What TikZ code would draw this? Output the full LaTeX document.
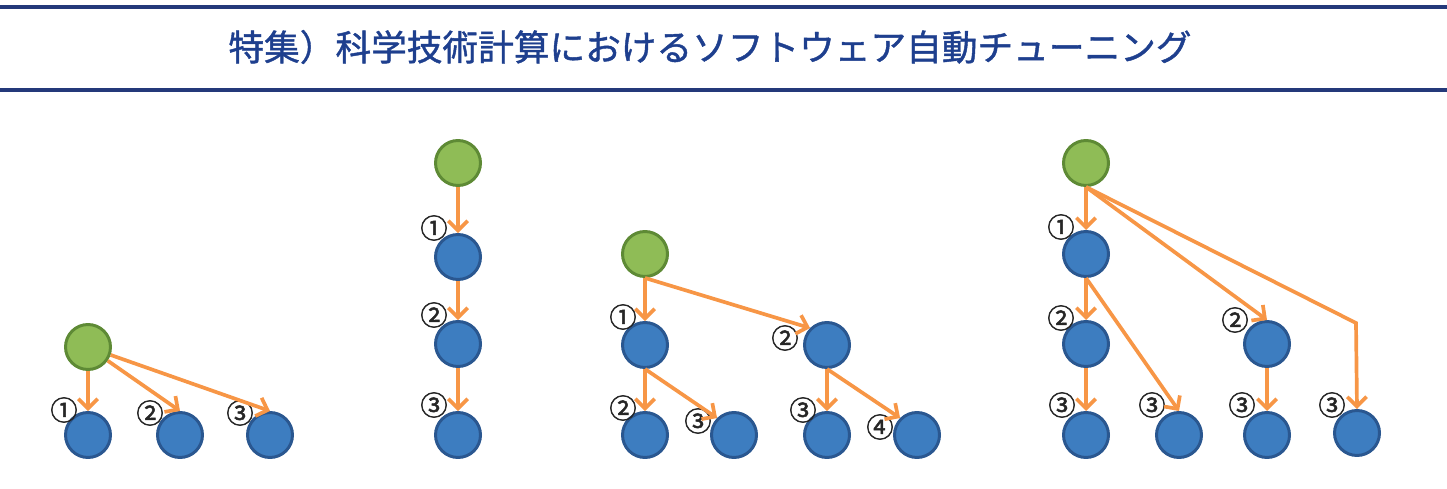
\documentclass[tikz,border=0pt]{standalone}
\usepackage{fontspec}
\newfontfamily\numfont[FakeBold=1.8]{Noto Sans CJK JP}
\newfontfamily\jptitle[FakeBold=1.2]{Noto Sans CJK JP}
\usepackage{tikz}
\usetikzlibrary{arrows.meta,positioning}

\definecolor{navy}{HTML}{24397A}
\definecolor{titleblue}{HTML}{1E3F8E}
\definecolor{nodeblue}{HTML}{3D7DC0}
\definecolor{nodeblueline}{HTML}{2A5790}
\definecolor{nodegreen}{HTML}{8FBC56}
\definecolor{nodegreenline}{HTML}{5E8A35}
\definecolor{arrorange}{HTML}{F79646}

\begin{document}
\begin{tikzpicture}[
	x=0.02cm, y=-0.02cm,
	root/.style={circle, draw=nodegreenline, fill=nodegreen, line width=1.7pt, minimum size=0.9cm, inner sep=0pt},
	leaf/.style={circle, draw=nodeblueline, fill=nodeblue, line width=1.7pt, minimum size=0.9cm, inner sep=0pt},
	num/.style={font=\numfont\fontsize{15.5}{15.5}\selectfont, text=black!85, inner sep=0pt},
	arr/.style={draw=arrorange, line width=2.1pt, -{Straight Barb[length=5.5pt,width=11pt]}}
]
\useasboundingbox (0,0) rectangle (1447,489);

% title band
\coordinate (tl) at (0,7);
\coordinate (tr) at (1447,7);
\coordinate (bl) at (0,90);
\coordinate (br) at (1447,90);
\draw[navy, line width=1.8pt] (tl) -- (tr);
\draw[navy, line width=1.8pt] (bl) -- (br);
\node[font=\jptitle\fontsize{20.3}{20.3}\selectfont, text=titleblue] (title) at (710,47) {特集）科学技術計算におけるソフトウェア自動チューニング};

% tree 1
\node[root] (g1) at (88,347) {};
\node[leaf] (a1) at (88,435) {};
\node[leaf] (a2) at (180,435) {};
\node[leaf] (a3) at (270,435) {};
\node[num] (na1) at (64,410) {①};
\node[num] (na2) at (150,413) {②};
\node[num] (na3) at (240,413) {③};
\draw[arr] (g1) -- (a1.north);
\draw[arr] (g1) -- (a2.north);
\draw[arr] (g1) -- (a3.north);

% tree 2
\node[root] (g2) at (458,163) {};
\node[leaf] (b1) at (458,257) {};
\node[leaf] (b2) at (458,344) {};
\node[leaf] (b3) at (458,435) {};
\node[num] (nb1) at (434,228) {①};
\node[num] (nb2) at (434,315) {②};
\node[num] (nb3) at (434,405) {③};
\draw[arr] (g2) -- (b1);
\draw[arr] (b1) -- (b2);
\draw[arr] (b2) -- (b3);

% tree 3
\node[root] (g3) at (645,254) {};
\node[leaf] (c1) at (645,345) {};
\node[leaf] (c2) at (827,345) {};
\node[leaf] (c11) at (645,435) {};
\node[leaf] (c12) at (734,435) {};
\node[leaf] (c21) at (827,435) {};
\node[leaf] (c22) at (917,435) {};
\node[num] (nc1) at (623,317) {①};
\node[num] (nc2) at (785,338) {②};
\node[num] (nc11) at (623,408) {②};
\node[num] (nc12) at (698,421) {③};
\node[num] (nc21) at (803,410) {③};
\node[num] (nc22) at (880,427) {④};
\draw[arr] (g3.south) -- (c1);
\draw[arr] (g3.south) -- (c2.north west);
\draw[arr] (c1.south) -- (c11);
\draw[arr] (c1.south) -- (c12.north west);
\draw[arr] (c2.south) -- (c21);
\draw[arr] (c2.south) -- (c22.north west);

% tree 4
\node[root] (g4) at (1086,163) {};
\node[leaf] (d1) at (1086,254) {};
\node[leaf] (d2) at (1086,344) {};
\node[leaf] (d3) at (1086,435) {};
\node[leaf] (d4) at (1179,435) {};
\node[leaf] (d5) at (1267,344) {};
\node[leaf] (d6) at (1267,435) {};
\node[leaf] (d7) at (1357,433) {};
\node[num] (nd1) at (1061,227) {①};
\node[num] (nd2) at (1061,318) {②};
\node[num] (nd3) at (1062,405) {③};
\node[num] (nd4) at (1152,405) {③};
\node[num] (nd5) at (1235,320) {②};
\node[num] (nd6) at (1242,405) {③};
\node[num] (nd7) at (1332,405) {③};
\coordinate (bend) at (1356,323);
\draw[arr] (g4.south) -- (d1);
\draw[arr] (g4.south) -- (d5.north);
\draw[arr] (g4.south) -- (bend) -- (d7.north);
\draw[arr] (d1.south) -- (d2);
\draw[arr] (d1.south) -- (d4.north);
\draw[arr] (d2) -- (d3);
\draw[arr] (d5) -- (d6);

\end{tikzpicture}
\end{document}
